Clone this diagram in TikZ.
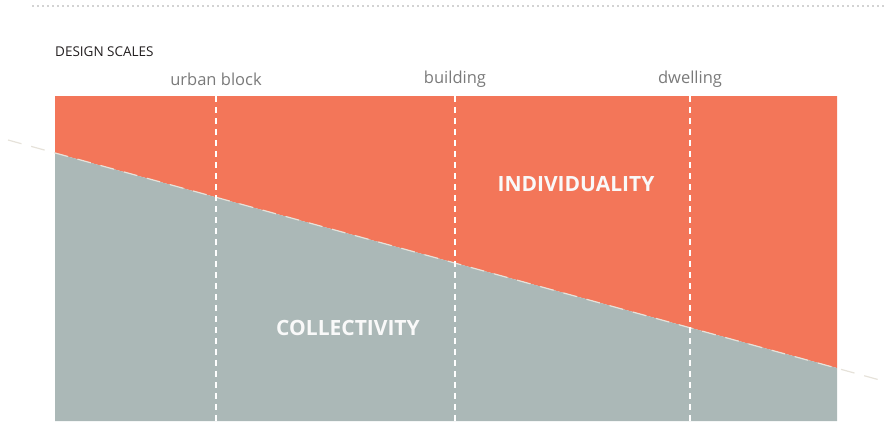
\documentclass[tikz,border=0pt]{standalone}
\usepackage{fontspec}
\setmainfont{Open Sans}
\usepackage{xcolor}
\usetikzlibrary{positioning, calc}
\definecolor{indivorange}{HTML}{F37659}
\definecolor{collgray}{HTML}{ABB8B7}
\definecolor{scaletext}{HTML}{7A7A7A}
\definecolor{splitline}{HTML}{E6E2DA}
\definecolor{titletext}{HTML}{231F20}

\begin{document}
\begin{tikzpicture}[x=1pt, y=-1pt,
            scalelabel/.style={text=scaletext, font=\fontsize{16.5}{18}\selectfont, inner sep=0pt},
            bigword/.style={text=white!95!gray, font=\fontsize{21}{24}\selectfont\bfseries, inner sep=0pt},
            divider/.style={white, line width=2.4pt, dash pattern=on 6pt off 5pt},
            split/.style={splitline, line width=1.2pt, dash pattern=on 14pt off 10pt}
        ]
            \useasboundingbox (0,0) rectangle (887,421);

% Top rule
            \coordinate (ruleL) at (33,6);
            \coordinate (ruleR) at (887,6);
            \draw[gray!70, line width=1.6pt, line cap=round, dash pattern=on 0pt off 5pt] (ruleL) -- (ruleR);

% Title
            \node[anchor=west, inner sep=0pt, text=titletext, font=\fontsize{13.5}{15}\selectfont] (title) at (55,52) {DESIGN SCALES};

% Areas
            \coordinate (diagL) at (55,153);
            \coordinate (diagR) at (837,368);
            \fill[indivorange] (55,96) -- (837,96) -- (diagR) -- (diagL) -- cycle;
            \fill[collgray] (diagL) -- (diagR) -- (837,421) -- (55,421) -- cycle;

% Split line
            \coordinate (splitL) at (8,140);
            \coordinate (splitR) at (887,382);
            \draw[split] (splitL) -- (splitR);

% Scale labels
            \node[scalelabel] (block) at (216,79) {urban block};
            \node[scalelabel] (building) at (455,79) {building};
            \node[scalelabel] (dwelling) at (690,79) {dwelling};

% Dividers
            \coordinate (blockB) at (216,421);
            \coordinate (buildingB) at (455,421);
            \coordinate (dwellingB) at (690,421);
            \draw[divider] (block.south |- 0,96) -- (blockB);
            \draw[divider] (building.south |- 0,96) -- (buildingB);
            \draw[divider] (dwelling.south |- 0,96) -- (dwellingB);

% Words
            \node[bigword] (indiv) at (576,184) {INDIVIDUALITY};
            \node[bigword] (collect) at (348,328) {COLLECTIVITY};

        \end{tikzpicture}
\end{document}
